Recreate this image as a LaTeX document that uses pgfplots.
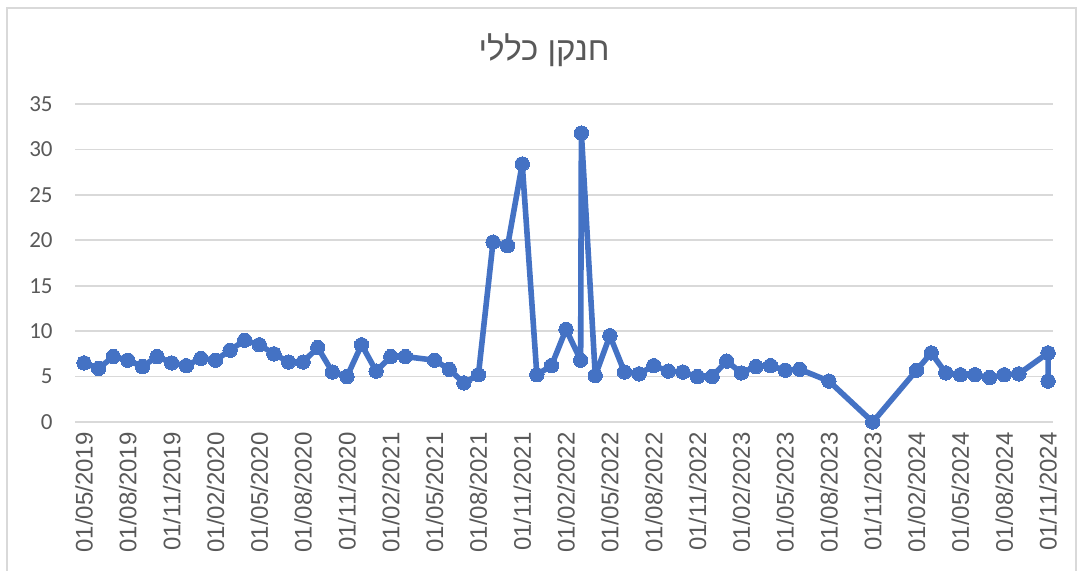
\documentclass[border=0pt]{standalone}
\usepackage{pgfplots}
\pgfplotsset{compat=1.18}
\usepackage{fontspec}
\setmainfont{Liberation Sans}
\newfontfamily\carlito{Carlito}
\newfontfamily\hebfont[Script=Hebrew]{Liberation Sans}
\TeXXeTstate=1
\definecolor{exblue}{HTML}{4472C4}
\definecolor{txtgray}{HTML}{595959}
\definecolor{gridgray}{HTML}{D9D9D9}
\begin{document}
\begin{tikzpicture}
\useasboundingbox (0,0) rectangle (540pt,285.5pt);
\draw[gridgray, line width=0.75pt] (3.5pt,-2pt) -- (3.5pt,281.5pt) -- (538pt,281.5pt) -- (538pt,-2pt);
\node[text=txtgray, font=\hebfont\fontsize{16.5}{18}\selectfont] at (272pt,260.5pt) {\beginR חנקן כללי\endR};
\begin{axis}[
  at={(37.5pt,74.5pt)}, anchor=south west,
  scale only axis, width=489pt, height=159pt,
  xmin=-0.62, xmax=66.34, ymin=0, ymax=35,
  clip=false,
  axis line style={draw=none},
  axis x line*=bottom,
  ytick={0,5,...,35},
  ymajorgrids, grid style={gridgray, line width=0.8pt},
  major tick length=0pt,
  xtick={0,3,...,66},
  xticklabels={01/05/2019,01/08/2019,01/11/2019,01/02/2020,01/05/2020,01/08/2020,01/11/2020,01/02/2021,01/05/2021,01/08/2021,01/11/2021,01/02/2022,01/05/2022,01/08/2022,01/11/2022,01/02/2023,01/05/2023,01/08/2023,01/11/2023,01/02/2024,01/05/2024,01/08/2024,01/11/2024},
  xticklabel style={rotate=90, anchor=east, inner sep=0pt, text=txtgray, font=\fontsize{12}{14}\selectfont},
  xticklabel shift=5pt,
  yticklabel style={anchor=east, inner sep=0pt, text=txtgray, font=\carlito\fontsize{11.5}{13}\selectfont},
  yticklabel shift=11pt,
  /pgf/number format/assume math mode=true,
]
\addplot[exblue, line width=2.8pt, mark=*, mark size=3.6pt, mark options={fill=exblue, draw=exblue, line width=0pt}, line join=round] coordinates {
(0,6.5) (1,5.9) (2,7.2) (3,6.8) (4,6.1) (5,7.2) (6,6.5) (7,6.2) (8,7.0) (9,6.8)
(10,7.9) (11,9.0) (12,8.5) (13,7.5) (14,6.6) (15,6.6) (16,8.2) (17,5.5) (18,5.0) (19,8.5)
(20,5.6) (21,7.2) (22,7.2) (24,6.8) (25,5.8) (26,4.3) (27,5.2) (28,19.8) (29,19.4) (30,28.4)
(31,5.2) (32,6.2) (33,10.2) (34,6.8) (34.05,31.8) (35,5.1) (36,9.5) (37,5.5) (38,5.3) (39,6.2)
(40,5.6) (41,5.5) (42,5.0) (43,5.0) (44,6.7) (45,5.4) (46,6.1) (47,6.2) (48,5.7) (49,5.8)
(51,4.5) (54,0) (57,5.7) (58,7.6) (59,5.4) (60,5.2) (61,5.2) (62,4.9) (63,5.2) (64,5.3)
(66,7.6) (66,4.5)
};
\end{axis}
\end{tikzpicture}
\end{document}
